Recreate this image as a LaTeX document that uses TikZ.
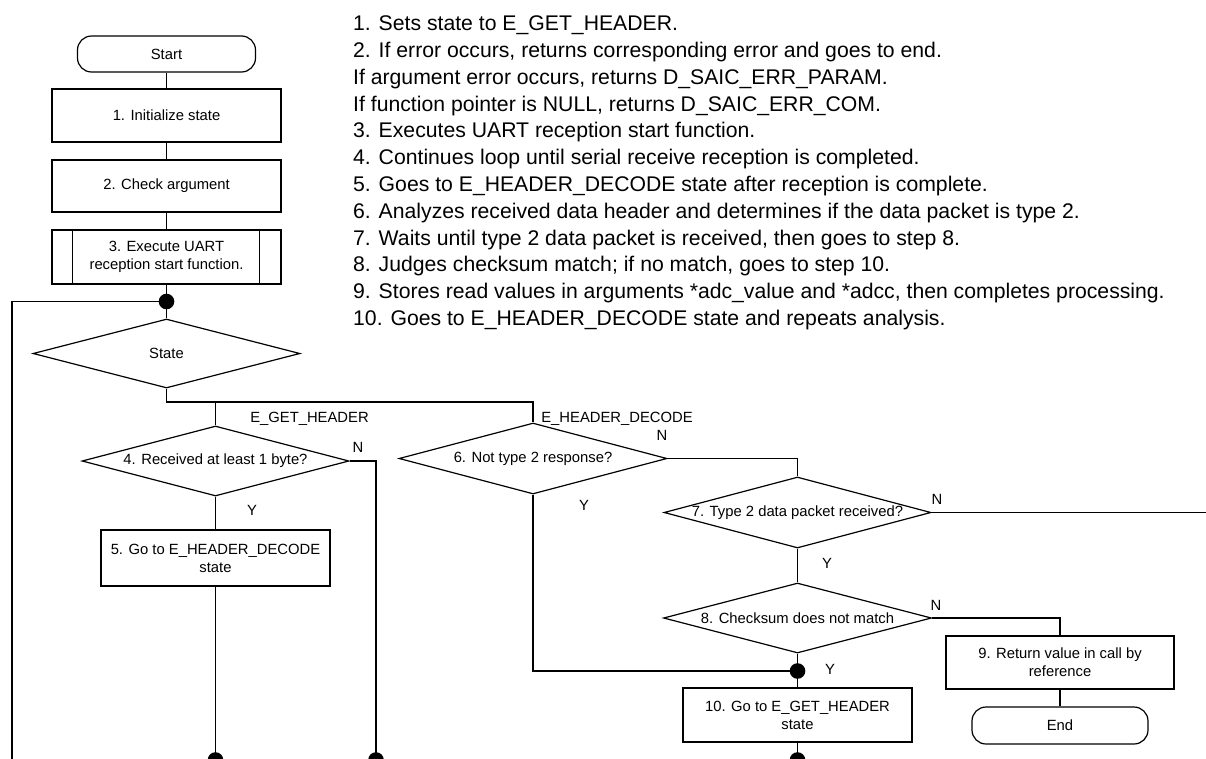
\documentclass[tikz,border=0pt]{standalone}
\usepackage{fontspec}
\setmainfont{Liberation Sans}
\usetikzlibrary{shapes.geometric}

\tikzset{
  flow/.style={line width=1.2pt, draw=black},
  procbox/.style={flow, rectangle, inner sep=0pt, minimum width=229pt, align=center,
    font=\fontsize{14.8}{18}\selectfont},
  termbox/.style={flow, rectangle, rounded corners=14pt, inner sep=0pt,
    font=\fontsize{14.8}{18}\selectfont},
  decbox/.style={flow, diamond, inner sep=0pt, minimum width=267pt, minimum height=70pt,
    font=\fontsize{14.8}{18}\selectfont},
  jdot/.style={circle, fill=black, inner sep=0pt, minimum size=15.6pt},
  lbl/.style={inner sep=0pt, font=\fontsize{14.8}{18}\selectfont},
  note/.style={inner sep=0pt, anchor=base west, font=\fontsize{21.2}{26.8}\selectfont},
  wire/.style={line width=1.2pt}
}

\begin{document}
\begin{tikzpicture}[x=1pt, y=-1pt]
\useasboundingbox (0,0) rectangle (1206,758);
\clip (0,0) rectangle (1206,758);

% explanatory notes
\foreach \t [count=\i] in {
  {1. Sets state to E\_GET\_HEADER.},
  {2. If error occurs, returns corresponding error and goes to end.},
  {If argument error occurs, returns D\_SAIC\_ERR\_PARAM.},
  {If function pointer is NULL, returns D\_SAIC\_ERR\_COM.},
  {3. Executes UART reception start function.},
  {4. Continues loop until serial receive reception is completed.},
  {5. Goes to E\_HEADER\_DECODE state after reception is complete.},
  {6. Analyzes received data header and determines if the data packet is type 2.},
  {7. Waits until type 2 data packet is received, then goes to step 8.},
  {8. Judges checksum match; if no match, goes to step 10.},
  {9. Stores read values in arguments *adc\_value and *adcc, then completes processing.},
  {10. Goes to E\_HEADER\_DECODE state and repeats analysis.}}
  \node[note] (note\i) at (353, {30.6+(\i-1)*26.8}) {\t};

% main column
\node[termbox, minimum width=178pt, minimum height=36pt] (start) at (166.5,54) {Start};
\node[procbox, minimum height=53pt] (init) at (166.5,115.5) {1. Initialize state};
\node[procbox, minimum height=52pt] (check) at (166.5,186) {2. Check argument};
\node[procbox, minimum height=54pt] (uart) at (166.5,257) {3. Execute UART\\reception start function.};
\draw[wire] ([xshift=21pt]uart.north west) -- ([xshift=21pt]uart.south west);
\draw[wire] ([xshift=-22pt]uart.north east) -- ([xshift=-22pt]uart.south east);
\node[jdot] (j1) at (166.5,301.5) {};
\node[decbox, minimum height=69pt] (state) at (166.5,353.5) {\makebox[0pt]{State}};

% E_GET_HEADER branch
\node[decbox] (d4) at (215.5,461) {\makebox[0pt]{4. Received at least 1 byte?}};
\node[procbox, minimum height=56pt] (box5) at (215.5,558) {5. Go to E\_HEADER\_DECODE\\state};

% E_HEADER_DECODE branch
\node[decbox, minimum width=268pt, minimum height=71pt] (d6) at (533,458.5) {\makebox[0pt]{6. Not type 2 response?}};
\node[decbox, minimum height=71pt] (d7) at (797.5,512.5) {\makebox[0pt]{7. Type 2 data packet received?}};
\node[decbox, minimum width=268pt] (d8) at (797.5,618) {\makebox[0pt]{8. Checksum does not match}};
\node[jdot] (j2) at (797.5,671) {};
\node[procbox, minimum height=54pt] (box10) at (797.5,715) {10. Go to E\_GET\_HEADER\\state};
\node[procbox, minimum width=228pt, minimum height=53pt] (box9) at (1060,662.5) {9. Return value in call by\\reference};
\node[termbox, minimum width=176pt, minimum height=37pt] (endn) at (1060,725.5) {End};

% loop-back junctions at the bottom
\node[jdot] (dotA) at (215.5,760) {};
\node[jdot] (dotB) at (376,760) {};
\node[jdot] (dotC) at (797.5,760) {};

% routing points
\coordinate (bus) at (166.5,402);
\coordinate (busA) at (215.5,402);
\coordinate (busR) at (533,402);
\coordinate (loopT) at (12,301.5);
\coordinate (loopB) at (12,775);
\coordinate (exitR) at (1215,512.5);

% connectors
\draw[wire] (start) -- (init);
\draw[wire] (init) -- (check);
\draw[wire] (check) -- (uart);
\draw[wire] (uart) -- (j1.center) -- (state);
\draw[wire] (j1.center) -- (loopT) -- (loopB);
\draw[wire] (state.south) -- (bus) -- (busR) -- (d6.north);
\draw[wire] (busA) -- (d4.north);
\draw[wire] (d4.south) -- (box5);
\draw[wire] (box5) -- (dotA.center);
\draw[wire] (d4.east) -| (dotB.center);
\draw[wire] (d6.east) -| (d7.north);
\draw[wire] (d6.south) |- (j2.center);
\draw[wire] (d7.east) -- (exitR);
\draw[wire] (d7.south) -- (d8.north);
\draw[wire] (d8.south) -- (j2.center) -- (box10);
\draw[wire] (box10) -- (dotC.center);
\draw[wire] (d8.east) -| (box9.north);
\draw[wire] (box9) -- (endn);

% branch labels
\node[lbl] (lgh) at (309.5,419) {E\_GET\_HEADER};
\node[lbl] (lhd) at (617,419) {E\_HEADER\_DECODE};
\node[lbl] (n4) at (358,447) {N};
\node[lbl] (y4) at (252,510) {Y};
\node[lbl] (n6) at (662,435) {N};
\node[lbl] (y6) at (584,505) {Y};
\node[lbl] (n7) at (937,499) {N};
\node[lbl] (y7) at (827,563) {Y};
\node[lbl] (n8) at (936,605) {N};
\node[lbl] (y8) at (830,669) {Y};
\end{tikzpicture}
\end{document}
